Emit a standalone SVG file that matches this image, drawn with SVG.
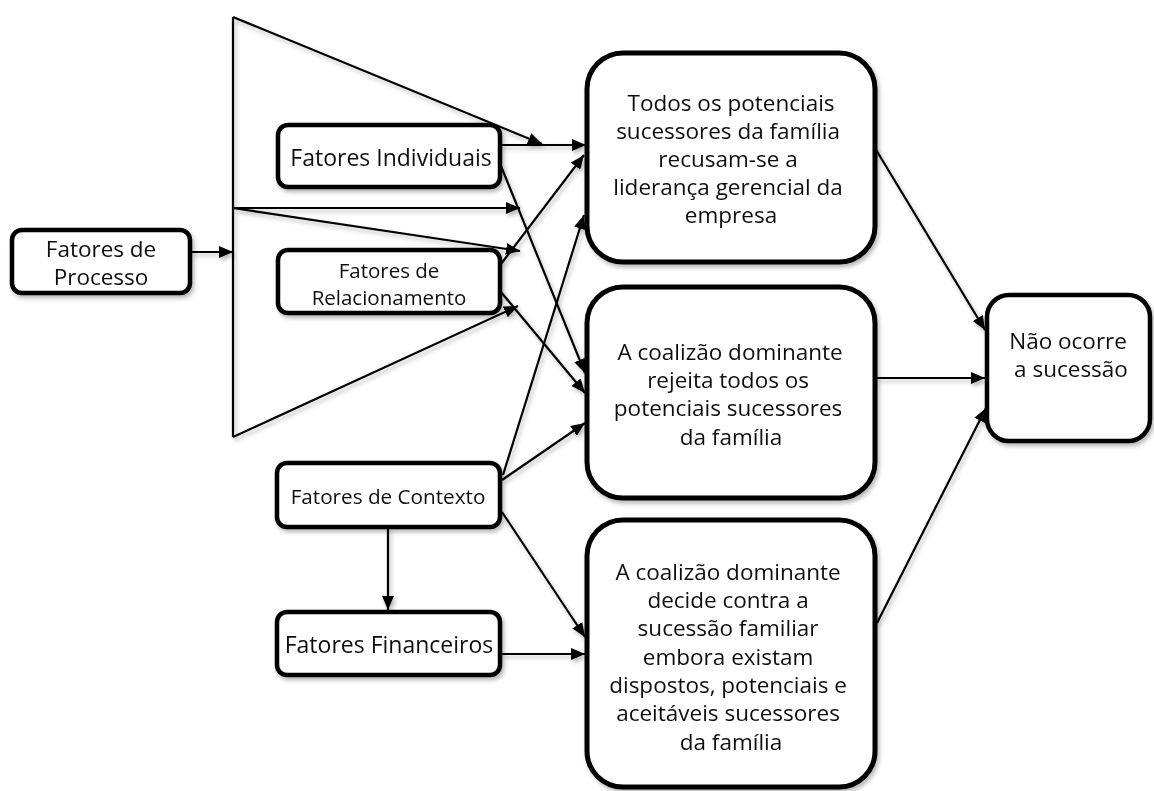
<svg xmlns="http://www.w3.org/2000/svg" width="1154" height="791" viewBox="0 0 1154 791">
  <defs>
    <filter id="shadow" x="-10%" y="-10%" width="130%" height="130%">
      <feDropShadow dx="2" dy="3" stdDeviation="2" flood-color="#000" flood-opacity="0.28"/>
    </filter>
    <marker id="arrow" viewBox="0 0 13 11" refX="13" refY="5.5" markerWidth="14" markerHeight="12" markerUnits="userSpaceOnUse" orient="auto">
      <path d="M0,0 L13,5.5 L0,11 Z" fill="#000"/>
    </marker>
  </defs>
  <style>
    .box { fill: #fff; stroke: #000; stroke-width: 4.5; }
    .big { fill: #fff; stroke: #000; stroke-width: 5; }
    .lbl { font-family: "Open Sans", "DejaVu Sans", sans-serif; fill: #111; text-anchor: middle; }
    .edge { fill: none; stroke: #000; stroke-width: 2.2; }
    .arr { marker-end: url(#arrow); }
  </style>
  <rect width="1154" height="791" fill="#fff"/>

  <!-- connectors -->
  <g id="connectors" filter="url(#shadow)">
    <!-- fan from the process factors -->
    <line class="edge" x1="233" y1="17" x2="233" y2="437"/>
    <line class="edge arr" x1="233" y1="17" x2="542" y2="144"/>
    <line class="edge arr" x1="233" y1="208" x2="520" y2="208"/>
    <line class="edge arr" x1="233" y1="208" x2="520" y2="251"/>
    <line class="edge arr" x1="233" y1="437" x2="518" y2="306"/>
    <line class="edge arr" x1="190" y1="252" x2="233" y2="252"/>
    <!-- factor boxes to outcomes -->
    <line class="edge arr" x1="500" y1="145" x2="586" y2="145"/>
    <line class="edge arr" x1="501" y1="166" x2="585" y2="373"/>
    <line class="edge arr" x1="501" y1="264" x2="584" y2="155"/>
    <line class="edge arr" x1="501" y1="292" x2="585" y2="393"/>
    <line class="edge arr" x1="503" y1="475" x2="584" y2="215"/>
    <line class="edge arr" x1="502" y1="480" x2="585" y2="423"/>
    <line class="edge arr" x1="502" y1="512" x2="585" y2="637"/>
    <line class="edge arr" x1="388" y1="527" x2="388" y2="610"/>
    <line class="edge arr" x1="500" y1="654" x2="585" y2="654"/>
    <!-- outcomes to the final result -->
    <line class="edge arr" x1="875" y1="148" x2="985" y2="330"/>
    <line class="edge arr" x1="876" y1="378" x2="985" y2="378"/>
    <line class="edge arr" x1="877" y1="623" x2="986" y2="408"/>
  </g>

  <g id="fatores-processo" filter="url(#shadow)">
    <rect class="box" x="12" y="230" width="178" height="63" rx="10"/>
    <text class="lbl" x="101" y="257" font-size="22.5">Fatores de</text>
    <text class="lbl" x="101" y="285" font-size="22.5">Processo</text>
  </g>

  <g id="fatores-individuais" filter="url(#shadow)">
    <rect class="box" x="278" y="125" width="222" height="62" rx="10"/>
    <text class="lbl" x="391" y="166" font-size="23">Fatores Individuais</text>
  </g>

  <g id="fatores-relacionamento" filter="url(#shadow)">
    <rect class="box" x="278" y="250" width="222" height="63" rx="10"/>
    <text class="lbl" x="389" y="278" font-size="20.5">Fatores de</text>
    <text class="lbl" x="389" y="305" font-size="20.5">Relacionamento</text>
  </g>

  <g id="fatores-contexto" filter="url(#shadow)">
    <rect class="box" x="277" y="463" width="223" height="64" rx="10"/>
    <text class="lbl" x="388" y="504" font-size="20.7">Fatores de Contexto</text>
  </g>

  <g id="fatores-financeiros" filter="url(#shadow)">
    <rect class="box" x="277" y="612" width="223" height="63" rx="10"/>
    <text class="lbl" x="389" y="653" font-size="23">Fatores Financeiros</text>
  </g>

  <g id="recusa-sucessores" filter="url(#shadow)">
    <rect class="big" x="587" y="53" width="288" height="209" rx="36"/>
    <text class="lbl" font-size="22.5">
      <tspan x="734" y="111">Todos os potenciais</tspan>
      <tspan x="731" y="139">sucessores da família</tspan>
      <tspan x="731" y="167">recusam-se a</tspan>
      <tspan x="731" y="195">liderança gerencial da</tspan>
      <tspan x="731" y="223">empresa</tspan>
    </text>
  </g>

  <g id="rejeita-sucessores" filter="url(#shadow)">
    <rect class="big" x="587" y="287" width="288" height="211" rx="36"/>
    <text class="lbl" font-size="22.5">
      <tspan x="733" y="360">A coalizão dominante</tspan>
      <tspan x="731" y="388">rejeita todos os</tspan>
      <tspan x="731" y="416">potenciais sucessores</tspan>
      <tspan x="731" y="445">da família</tspan>
    </text>
  </g>

  <g id="decide-contra" filter="url(#shadow)">
    <rect class="big" x="587" y="520" width="288" height="267" rx="36"/>
    <text class="lbl" font-size="22.5">
      <tspan x="731" y="580">A coalizão dominante</tspan>
      <tspan x="731" y="608">decide contra a</tspan>
      <tspan x="731" y="636">sucessão familiar</tspan>
      <tspan x="731" y="665">embora existam</tspan>
      <tspan x="731" y="693">dispostos, potenciais e</tspan>
      <tspan x="731" y="721">aceitáveis sucessores</tspan>
      <tspan x="731" y="750">da família</tspan>
    </text>
  </g>

  <g id="nao-ocorre" filter="url(#shadow)">
    <rect class="box" x="987" y="295" width="163" height="146" rx="22"/>
    <text class="lbl" font-size="22.5">
      <tspan x="1071" y="349">Não ocorre</tspan>
      <tspan x="1071" y="377">a sucessão</tspan>
    </text>
  </g>
</svg>
